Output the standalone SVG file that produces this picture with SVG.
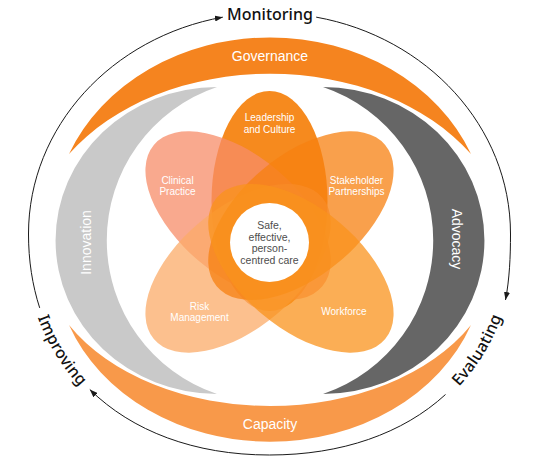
<svg xmlns="http://www.w3.org/2000/svg" width="534" height="456" viewBox="0 0 534 456">
<defs>
<marker id="arrow" viewBox="0 0 8 6" refX="8" refY="3" markerWidth="8" markerHeight="6" markerUnits="userSpaceOnUse" orient="auto"><path d="M0,0 L8,3 L0,6 Z" fill="#1a1a1a"/></marker>
<path id="pImp" d="M28.5,234 C28.5,366.6 124.9,455 269.5,455"/>
<path id="pEval" d="M269.5,455 C414.1,455 510.5,366.6 510.5,234"/>
</defs>
<style>
.cyc{fill:none;stroke:#1a1a1a;stroke-width:1;marker-end:url(#arrow)}
.lbl{font-family:"Noto Sans","Liberation Sans",sans-serif;font-size:16px;font-weight:500;fill:#111}
.band{font-family:"Liberation Sans",Arial,sans-serif;font-size:14px;fill:#fff;text-anchor:middle}
.pt{font-family:"Liberation Sans",Arial,sans-serif;font-size:10px;fill:#fff;text-anchor:middle}
.ct{font-family:"Liberation Sans",Arial,sans-serif;font-size:10.5px;fill:#4d4d4d;text-anchor:middle}
.petal{fill-opacity:0.75}
</style>
<rect width="534" height="456" fill="#fff"/>

<g id="connectors">
<path class="cyc" d="M39.69,307.9 C32.36,285.27 28.5,260.52 28.5,234 C28.5,126.59 112.06,37.08 222.82,17.14"/>
<path class="cyc" d="M316.18,17.14 C426.94,37.08 510.5,126.59 510.5,234 C510.5,257 509.5,279 505.5,300"/>
<path class="cyc" d="M445.5,394.5 C403,433.5 341.8,455 269.5,455 C194.31,455 132.15,431.1 89.8,389.51"/>
</g>

<g id="monitoring"><text class="lbl" x="270" y="20" text-anchor="middle">Monitoring</text></g>
<g id="improving"><text class="lbl" dy="5"><textPath href="#pImp" startOffset="123" text-anchor="middle">Improving</textPath></text></g>
<g id="evaluating"><text class="lbl" dy="5"><textPath href="#pEval" startOffset="245" text-anchor="middle">Evaluating</textPath></text></g>

<g id="governance">
<path d="M69,154 A217,187 0 0 1 471,154 A240,177 0 0 0 69,154 Z" fill="#F5841F"/>
<text class="band" x="270" y="60.5">Governance</text>
</g>
<g id="capacity">
<path d="M69,325 A215,181 0 0 0 471,325 A230,157.6 0 0 1 69,325 Z" fill="#F8994A"/>
<text class="band" x="270" y="428.5">Capacity</text>
</g>
<g id="innovation">
<path d="M217,87 A161.5,153.5 0 0 0 217,394 A162,162 0 0 1 217,87 Z" fill="#C9C9C9"/>
<text class="band" transform="translate(90.5,242.5) rotate(-90)">Innovation</text>
</g>
<g id="advocacy">
<path d="M323,87 A161.5,153.5 0 0 1 323,394 A162,162 0 0 0 323,87 Z" fill="#666666"/>
<text class="band" transform="translate(452,239) rotate(90)">Advocacy</text>
</g>

<g id="leadership">
<ellipse cx="0" cy="-41" rx="58" ry="110" fill="#F68A1E" transform="translate(269.5,242)"/>
<text class="pt" x="269.5" y="121">Leadership</text>
<text class="pt" x="269.5" y="132.7">and Culture</text>
</g>
<g id="clinical">
<ellipse class="petal" cx="0" cy="-41" rx="60" ry="110" fill="#F78C68" transform="translate(269.5,242) rotate(-50)"/>
<text class="pt" x="177.5" y="183.6">Clinical</text>
<text class="pt" x="177.5" y="195.3">Practice</text>
</g>
<g id="risk">
<ellipse class="petal" cx="0" cy="-41" rx="60" ry="110" fill="#FBAB68" transform="translate(269.5,242) rotate(-130)"/>
<text class="pt" x="199.5" y="309.6">Risk</text>
<text class="pt" x="199.5" y="321.3">Management</text>
</g>
<g id="stakeholder">
<ellipse class="petal" cx="0" cy="-41" rx="60" ry="110" fill="#F78010" transform="translate(269.5,242) rotate(50)"/>
<text class="pt" x="356.5" y="183.6">Stakeholder</text>
<text class="pt" x="356.5" y="195.3">Partnerships</text>
</g>
<g id="workforce">
<ellipse class="petal" cx="0" cy="-41" rx="60" ry="110" fill="#FA931C" transform="translate(269.5,242) rotate(130)"/>
<text class="pt" x="344" y="314.6">Workforce</text>
</g>
<g id="centre">
<circle cx="269.5" cy="242.5" r="39.5" fill="#fff"/>
<text class="ct" x="269.5" y="229.3">Safe,</text>
<text class="ct" x="269.5" y="240.8">effective,</text>
<text class="ct" x="269.5" y="252.3">person-</text>
<text class="ct" x="269.5" y="263.8">centred care</text>
</g>
</svg>
